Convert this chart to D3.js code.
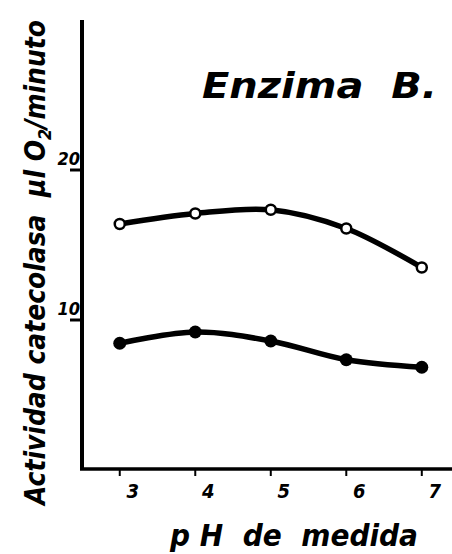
<!DOCTYPE html>
<html>
<head>
<meta charset="utf-8">
<script src="https://cdn.jsdelivr.net/npm/d3@7"></script>
<style>
  html, body { margin: 0; padding: 0; background: #fff; }
  svg { display: block; }
  text { font-family: "DejaVu Sans Condensed", "DejaVu Sans", sans-serif; font-style: oblique; fill: #000; white-space: pre; }
</style>
</head>
<body>
<script>
// Data
const phValues = [3, 4, 5, 6, 7];
const openSeries = [16.4, 17.1, 17.35, 16.1, 13.5];   // open circles
const filledSeries = [8.45, 9.2, 8.6, 7.35, 6.85];    // filled circles
const xTickLabels = ["3", "4", "5", "6", "7"];
const yTickValues = [10, 20];
const titleText = "Enzima  B.";
const xLabelText = "p H  de  medida";

const W = 452, H = 554;
const svg = d3.select("body").append("svg").attr("width", W).attr("height", H);

const x = d3.scaleLinear().domain([2.5, 7.4]).range([82, 452]);
const y = d3.scaleLinear().domain([0, 30]).range([470, 20]);

// Axes lines
const axisG = svg.append("g");
axisG.append("line").attr("x1", x(2.5)).attr("x2", x(2.5)).attr("y1", y(30)).attr("y2", y(0))
  .attr("stroke", "#000").attr("stroke-width", 4);
axisG.append("line").attr("x1", x(2.5) - 2).attr("x2", x(7.4)).attr("y1", y(0) - 1).attr("y2", y(0) - 1)
  .attr("stroke", "#000").attr("stroke-width", 3.5);

// X ticks (small, below axis) and labels
axisG.selectAll(".xt").data(phValues).join("line")
  .attr("x1", d => x(d)).attr("x2", d => x(d))
  .attr("y1", y(0)).attr("y2", y(0) + 6)
  .attr("stroke", "#000").attr("stroke-width", 2);
axisG.selectAll(".xl").data(phValues).join("text")
  .attr("x", d => x(d) + 13).attr("y", y(0) + 28)
  .attr("text-anchor", "middle")
  .attr("font-size", 20).attr("font-weight", "bold")
  .text((d, i) => xTickLabels[i]);

// Y ticks (to the left) and labels
axisG.selectAll(".yt").data(yTickValues).join("line")
  .attr("x1", x(2.5) - 12).attr("x2", x(2.5))
  .attr("y1", d => y(d)).attr("y2", d => y(d))
  .attr("stroke", "#000").attr("stroke-width", 3);
axisG.selectAll(".yl").data(yTickValues).join("text")
  .attr("x", x(2.5) - 2).attr("y", d => y(d) - 5)
  .attr("text-anchor", "end")
  .attr("font-size", 18).attr("font-weight", "bold")
  .text(d => d);

// Curves
const line = d3.line().x((d, i) => x(phValues[i])).y(d => y(d)).curve(d3.curveCatmullRom.alpha(0.5));
svg.append("path").datum(openSeries).attr("d", line)
  .attr("fill", "none").attr("stroke", "#000").attr("stroke-width", 5.5).attr("stroke-linecap", "round");
svg.append("path").datum(filledSeries).attr("d", line)
  .attr("fill", "none").attr("stroke", "#000").attr("stroke-width", 5.5).attr("stroke-linecap", "round");

// Markers
svg.selectAll(".om").data(openSeries).join("circle")
  .attr("cx", (d, i) => x(phValues[i])).attr("cy", d => y(d)).attr("r", 5)
  .attr("fill", "#fff").attr("stroke", "#000").attr("stroke-width", 2.5);
svg.selectAll(".fm").data(filledSeries).join("circle")
  .attr("cx", (d, i) => x(phValues[i])).attr("cy", d => y(d)).attr("r", 6.5)
  .attr("fill", "#000");

// Title
svg.append("text").attr("x", 202).attr("y", 98)
  .attr("font-size", 36).attr("font-weight", "bold")
  .attr("textLength", 235).attr("lengthAdjust", "spacingAndGlyphs")
  .text(titleText);

// X label
svg.append("text").attr("x", 170).attr("y", 546)
  .attr("font-size", 30).attr("font-weight", "bold")
  .attr("textLength", 248).attr("lengthAdjust", "spacingAndGlyphs")
  .text(xLabelText);

// Y label (rotated)
const yl = svg.append("text")
  .attr("transform", "translate(45,505) rotate(-90)")
  .attr("font-size", 28).attr("font-weight", "bold")
  .attr("textLength", 485).attr("lengthAdjust", "spacingAndGlyphs");
yl.append("tspan").text("Actividad catecolasa  μl O");
yl.append("tspan").attr("font-size", 18).attr("dy", 6).text("2");
yl.append("tspan").attr("dy", -6).text("/minuto");
</script>
</body>
</html>
